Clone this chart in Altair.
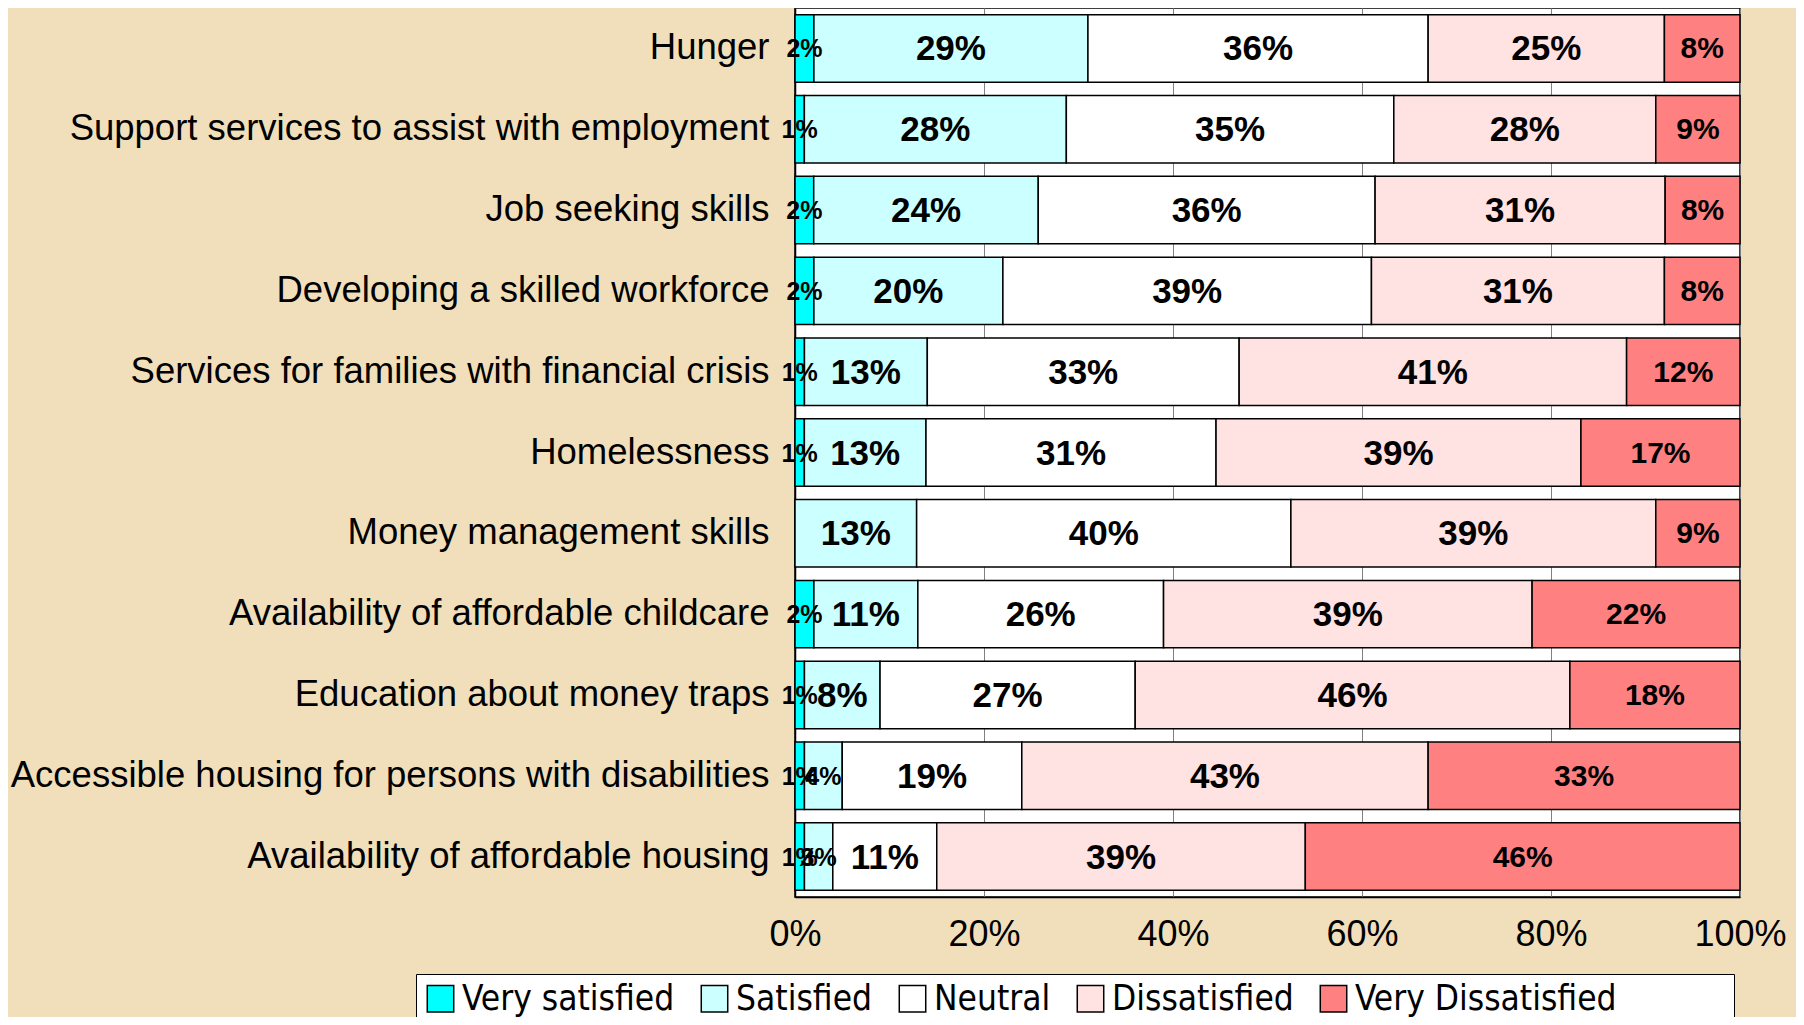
import altair as alt
import pandas as pd

categories = [
    "Hunger",
    "Support services to assist with employment",
    "Job seeking skills",
    "Developing a skilled workforce",
    "Services for families with financial crisis",
    "Homelessness",
    "Money management skills",
    "Availability of affordable childcare",
    "Education about money traps",
    "Accessible housing for persons with disabilities",
    "Availability of affordable housing",
]
series = ["Very satisfied", "Satisfied", "Neutral", "Dissatisfied", "Very Dissatisfied"]
very_satisfied = [2, 1, 2, 2, 1, 1, 0, 2, 1, 1, 1]
satisfied = [29, 28, 24, 20, 13, 13, 13, 11, 8, 4, 3]
neutral = [36, 35, 36, 39, 33, 31, 40, 26, 27, 19, 11]
dissatisfied = [25, 28, 31, 31, 41, 39, 39, 39, 46, 43, 39]
very_dissatisfied = [8, 9, 8, 8, 12, 17, 9, 22, 18, 33, 46]
colors = ["#00FFFF", "#CCFFFF", "#FFFFFF", "#FFE2E2", "#FF8080"]
x_ticks = [0, 0.2, 0.4, 0.6, 0.8, 1.0]

all_vals = [very_satisfied, satisfied, neutral, dissatisfied, very_dissatisfied]
rows = []
for i, c in enumerate(categories):
    for j, s in enumerate(series):
        rows.append({"category": c, "series": s, "order": j, "value": all_vals[j][i]})
df = pd.DataFrame(rows)

FONT = "Liberation Sans, Arial, Helvetica, sans-serif"
LEGEND_FONT = "Liberation Sans Narrow, Arial Narrow, DejaVu Sans Condensed, sans-serif"

base = (
    alt.Chart(df)
    .transform_stack(
        stack="value",
        as_=["v0", "v1"],
        groupby=["category"],
        offset="normalize",
        sort=[alt.SortField("order", order="ascending")],
    )
    .transform_calculate(
        mid="(datum.v0 + datum.v1) / 2",
        label="datum.value + '%'",
        fs="(datum.series == 'Very satisfied' || datum.value < 5) ? 25 : (datum.series == 'Very Dissatisfied' ? 30 : 35)",
    )
)

y_enc = alt.Y(
    "category:N",
    sort=categories,
    scale=alt.Scale(paddingInner=0.165, paddingOuter=0.083),
    axis=alt.Axis(
        title=None,
        labelFontSize=36.5,
        labelFont=FONT,
        labelColor="black",
        labelPadding=26,
        labelLimit=1000,
        ticks=False,
        domainColor="black",
        domainWidth=1.5,
    ),
)

bars = base.mark_bar(stroke="black", strokeWidth=1.5).encode(
    x=alt.X(
        "v0:Q",
        scale=alt.Scale(domain=[0, 1], nice=False),
        axis=alt.Axis(
            title=None,
            format=".0%",
            values=x_ticks,
            labelFontSize=36,
            labelFont=FONT,
            labelColor="black",
            labelFlush=False,
            labelPadding=20,
            ticks=False,
            grid=True,
            gridColor="#808080",
            domainColor="black",
            domainWidth=1.5,
        ),
    ),
    x2="v1:Q",
    y=y_enc,
    color=alt.Color(
        "series:N",
        scale=alt.Scale(domain=series, range=colors),
        legend=alt.Legend(
            title="\u2800" * 7,
            titleOrient="right",
            titleFont="DejaVu Sans",
            titleFontSize=20,
            titleColor="white",
            titlePadding=0,
            orient="none",
            legendX=-379,
            legendY=966,
            direction="horizontal",
            symbolType="square",
            symbolSize=700,
            symbolStrokeColor="black",
            symbolStrokeWidth=1.5,
            symbolOpacity=1,
            labelFont=LEGEND_FONT,
            labelFontSize=35,
            labelColor="black",
            labelOffset=4,
            columnPadding=22,
            fillColor="white",
            strokeColor="black",
            padding=7,
            labelLimit=1000,
        ),
    ),
    order=alt.Order("order:Q"),
)

texts = base.transform_filter("datum.value > 0").mark_text(
    font=FONT, fontWeight="bold", color="black", align="center", baseline="middle", dy=1
).encode(
    x=alt.X("mid:Q"),
    y=alt.Y("category:N", sort=categories),
    text="label:N",
    size=alt.Size("fs:Q", scale=None, legend=None),
)

chart = (
    alt.layer(bars, texts)
    .properties(
        width=945,
        height=889,
        background="#F0DFBA",
        padding={"left": 787, "top": 0, "right": 56, "bottom": 120},
        autosize=alt.AutoSizeParams(type="none"),
    )
    .configure_view(fill="white", stroke="black", strokeWidth=1.5)
)

chart.save("out.html", embed_options={"renderer": "svg", "actions": False})
